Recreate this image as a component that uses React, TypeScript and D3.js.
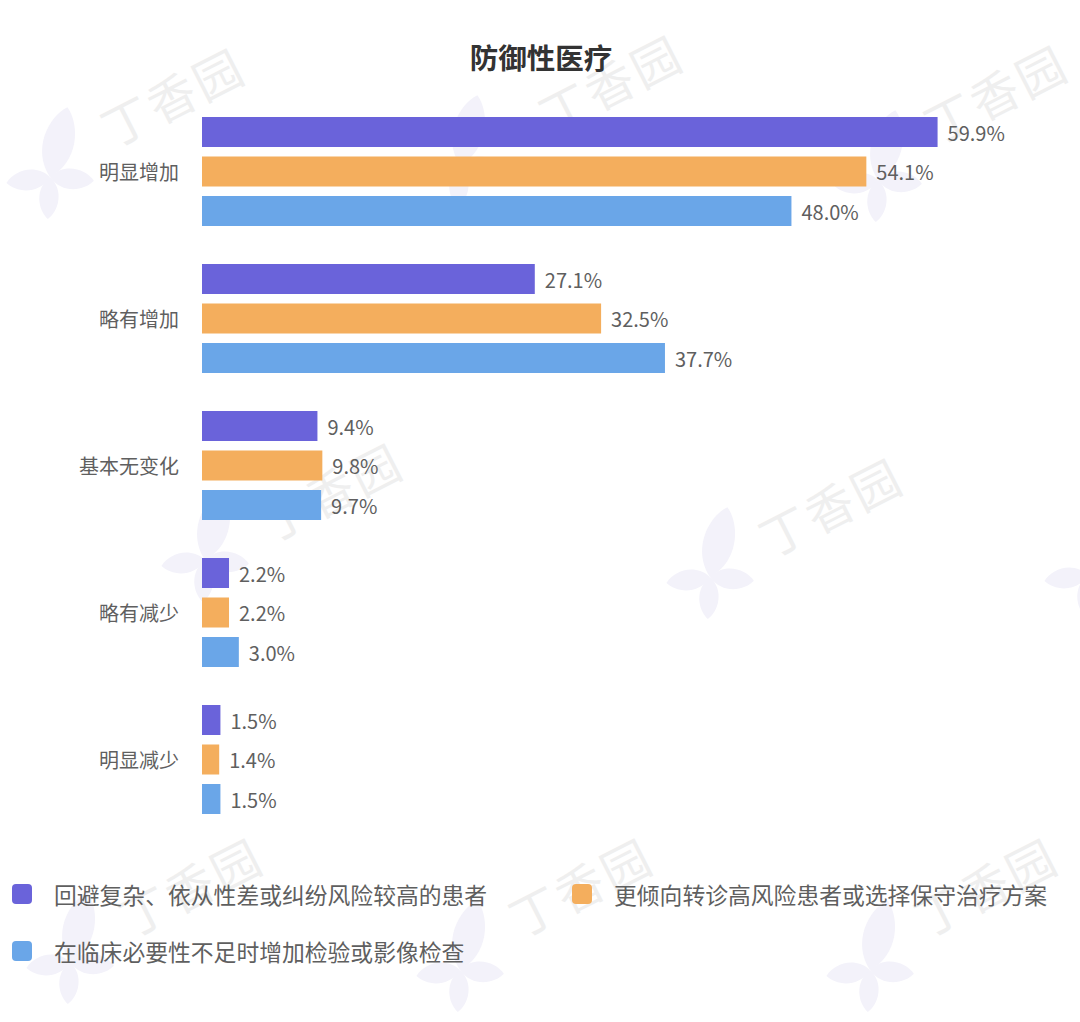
import React from "react";
import * as d3 from "d3";

const title = "防御性医疗";
const categories = ["明显增加", "略有增加", "基本无变化", "略有减少", "明显减少"];
const seriesNames = [
  "回避复杂、依从性差或纠纷风险较高的患者",
  "更倾向转诊高风险患者或选择保守治疗方案",
  "在临床必要性不足时增加检验或影像检查",
];
const seriesA = [59.9, 27.1, 9.4, 2.2, 1.5];
const seriesB = [54.1, 32.5, 9.8, 2.2, 1.4];
const seriesC = [48.0, 37.7, 9.7, 3.0, 1.5];
const seriesColors = ["#6A63DA", "#F4AE5D", "#6AA6E8"];

const W = 1080;
const H = 1022;
const FONT = "'Noto Sans CJK SC', 'Noto Sans', sans-serif";

// watermark anchors (decorative)
const wmLogos: [number, number][] = [
  [50, 177], [460, 165], [878, 180],
  [205, 560], [710, 577], [1088, 575],
  [70, 962], [460, 970], [870, 970],
];
const wmTexts: [number, number][] = [
  [172, 95], [610, 82], [995, 92],
  [330, 490], [830, 505],
  [190, 885], [580, 885], [985, 885],
];

function leaf(L: number, w: number) {
  return `M0,0 C${w},${-L * 0.3} ${w * 0.7},${-L * 0.8} 0,${-L} C${-w * 0.7},${-L * 0.8} ${-w},${-L * 0.3} 0,0Z`;
}

function Logo({ x, y }: { x: number; y: number }) {
  const fill = "#f3f2fa";
  return (
    <g transform={`translate(${x},${y})`}>
      <path d={leaf(72, 24)} transform="rotate(14)" fill={fill} />
      <path d={leaf(44, 16)} transform="rotate(-98)" fill={fill} />
      <path d={leaf(44, 16)} transform="rotate(95)" fill={fill} />
      <path d={leaf(42, 15)} transform="rotate(183)" fill={fill} />
    </g>
  );
}

export default function App() {
  const series = [seriesA, seriesB, seriesC];
  const x = d3.scaleLinear().domain([0, 60]).range([202, 202 + 60 * 12.28]);
  const y0 = d3
    .scaleBand<string>()
    .domain(categories)
    .range([117, 117 + 147 * categories.length])
    .paddingInner(0)
    .paddingOuter(0);
  const innerRange = 39.5 * (3 - 0.2405);
  const y1 = d3
    .scaleBand<number>()
    .domain([0, 1, 2])
    .range([0, innerRange])
    .paddingInner(0.2405)
    .paddingOuter(0);

  const legendPos: [number, number][] = [
    [12, 884],
    [572, 884],
    [12, 941],
  ];

  return (
    <svg
      width={W}
      height={H}
      style={{ position: "absolute", left: 0, top: 0, background: "#fff" }}
      fontFamily={FONT}
    >
      <rect x={0} y={0} width={W} height={H} fill="#fff" />
      {/* watermarks */}
      <g>
        {wmLogos.map(([lx, ly], i) => (
          <Logo key={"l" + i} x={lx} y={ly} />
        ))}
        {wmTexts.map(([tx, ty], i) => (
          <text
            key={"t" + i}
            transform={`translate(${tx},${ty}) rotate(-27)`}
            textAnchor="middle"
            dominantBaseline="central"
            fontSize={48}
            letterSpacing={3}
            fill="#efefef"
            fontFamily={FONT}
          >
            丁香园
          </text>
        ))}
      </g>

      <text
        x={541}
        y={56}
        textAnchor="middle"
        dominantBaseline="central"
        fontSize={28.5}
        fontWeight="bold"
        fill="#333"
      >
        {title}
      </text>

      {categories.map((cat, ci) => {
        const gy = y0(cat)!;
        return (
          <g key={cat}>
            <text
              x={179}
              y={gy + y1(1)! + y1.bandwidth() / 2}
              textAnchor="end"
              dominantBaseline="central"
              fontSize={20}
              fill="#5f5f5f"
            >
              {cat}
            </text>
            {series.map((s, si) => {
              const by = gy + y1(si)!;
              const v = s[ci];
              return (
                <g key={si}>
                  <rect
                    x={x(0)}
                    y={by}
                    width={x(v) - x(0)}
                    height={y1.bandwidth()}
                    fill={seriesColors[si]}
                  />
                  <text
                    x={x(v) + 10}
                    y={by + y1.bandwidth() / 2}
                    dominantBaseline="central"
                    fontSize={20}
                    fill="#5f5f5f"
                  >
                    {v.toFixed(1)}%
                  </text>
                </g>
              );
            })}
          </g>
        );
      })}

      {seriesNames.map((name, i) => {
        const [lx, ly] = legendPos[i];
        return (
          <g key={name}>
            <rect x={lx} y={ly} width={20} height={20} rx={4} fill={seriesColors[i]} />
            <text
              x={lx + 42}
              y={ly + 10}
              dominantBaseline="central"
              fontSize={22.8}
              fill="#5f5f5f"
            >
              {name}
            </text>
          </g>
        );
      })}
    </svg>
  );
}
